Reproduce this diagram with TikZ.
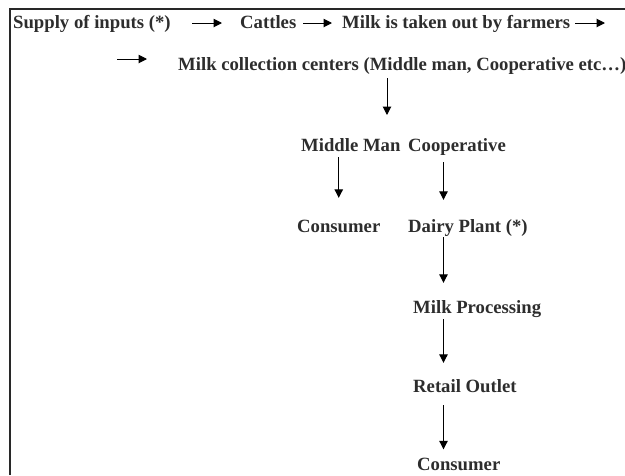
\documentclass[tikz,border=0pt]{standalone}
\usepackage{fontspec}
\setmainfont{Liberation Serif}
\usetikzlibrary{arrows.meta}
\definecolor{txt}{RGB}{45,45,45}
\definecolor{frm}{RGB}{40,40,40}
\tikzset{
  lbl/.style={anchor=base west, inner sep=0pt, text height=13pt, text depth=4pt,
    font=\fontsize{18.7}{22}\selectfont\bfseries, text=txt},
  arr/.style={-{Triangle[length=8.5pt,width=8.5pt]}, line width=1pt, black},
  frame/.style={line width=1.2pt, frm}
}
\begin{document}
\begin{tikzpicture}[x=1pt,y=-1pt]
\useasboundingbox (0,0) rectangle (625,475);
\draw[frame] (10,475) -- (10,9) -- (625,9);
% nodes
\node[lbl] (s1) at (13,28.5) {Supply of inputs (*)};
\node[lbl] (cat) at (240,28.5) {Cattles};
\node[lbl] (milk) at (342,28.5) {Milk is taken out by farmers};
\node[lbl] (cc) at (178,70) {Milk collection centers (Middle man, Cooperative etc…)};
\node[lbl] (mm) at (301,151) {Middle Man};
\node[lbl] (coop) at (408,151) {Cooperative};
\node[lbl] (con1) at (297,232) {Consumer};
\node[lbl] (dp) at (408,232) {Dairy Plant (*)};
\node[lbl] (mp) at (413,313) {Milk Processing};
\node[lbl] (ro) at (413,392) {Retail Outlet};
\node[lbl] (con2) at (417,470.5) {Consumer};
% helper coordinates
\coordinate (e1) at (605,23);
\coordinate (s2) at (117,59);
\coordinate (split) at (387,115);
\coordinate (axis) at (443.5,0);
% connectors
\draw[arr, shorten <=21.5pt, shorten >=18pt] ([yshift=5.5pt]s1.base east) -- ([yshift=5.5pt]cat.base west);
\draw[arr, shorten <=7pt, shorten >=10pt] ([yshift=5.5pt]cat.base east) -- ([yshift=5.5pt]milk.base west);
\draw[arr, shorten <=5pt] ([yshift=5.5pt]milk.base east) -- (e1);
\draw[arr, shorten >=31pt] (s2) -- ([yshift=11pt]cc.base west);
\draw[arr, shorten <=4pt] (split |- cc.south) -- (split);
\draw[arr, shorten <=2pt, shorten >=21pt] (con1.north |- mm.south) -- (con1.north);
\draw[arr, shorten <=7pt, shorten >=19pt] (axis |- coop.south) -- (axis |- dp.north);
\draw[arr, shorten <=1pt, shorten >=17pt] (axis |- dp.south) -- (axis |- mp.north);
\draw[arr, shorten <=2pt, shorten >=16pt] (axis |- mp.south) -- (axis |- ro.north);
\draw[arr, shorten <=9pt, shorten >=8pt] (axis |- ro.south) -- (axis |- con2.north);
\end{tikzpicture}
\end{document}
